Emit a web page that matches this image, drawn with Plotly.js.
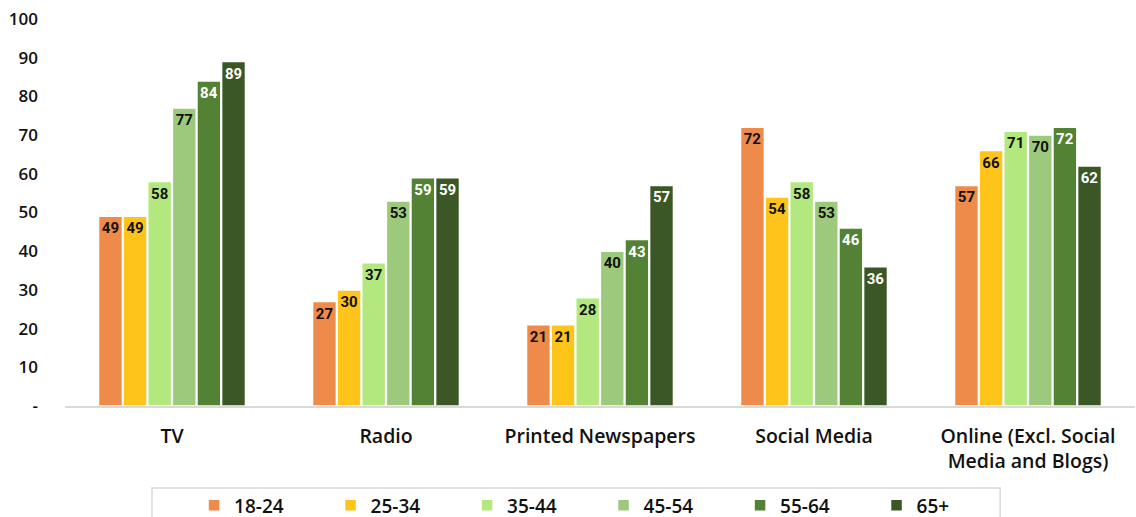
<!DOCTYPE html>
<html>
<head>
<meta charset="utf-8">
<script src="https://cdn.plot.ly/plotly-3.0.1.min.js"></script>
<style>html,body{margin:0;padding:0;background:#fff;overflow:hidden;}#chart{width:1136px;height:530px;}</style>
</head>
<body>
<div id="chart"></div>
<script>
const categories = ["TV", "Radio", "Printed Newspapers", "Social Media", "Online (Excl. Social<br>Media and Blogs)"];
const ageGroups = ["18-24", "25-34", "35-44", "45-54", "55-64", "65+"];
const age18_24 = [49, 27, 21, 72, 57];
const age25_34 = [49, 30, 21, 54, 66];
const age35_44 = [58, 37, 28, 58, 71];
const age45_54 = [77, 53, 40, 53, 70];
const age55_64 = [84, 59, 43, 46, 72];
const age65plus = [89, 59, 57, 36, 62];
const yTickVals = [0, 10, 20, 30, 40, 50, 60, 70, 80, 90, 100];
const yTickText = ["-", "10", "20", "30", "40", "50", "60", "70", "80", "90", "100"];

const seriesValues = [age18_24, age25_34, age35_44, age45_54, age55_64, age65plus];
const colors = ["#EE8B4B", "#FFC41A", "#B3E87E", "#9DC97C", "#548235", "#3A5725"];
const textColors = ["#111", "#111", "#111", "#111", "#fff", "#fff"];
const FONT = "'Open Sans', Roboto, sans-serif";
const BARFONT = "Roboto, 'DejaVu Sans Condensed', sans-serif";

const traces = ageGroups.map((name, i) => ({
  type: "bar",
  name: name,
  x: categories,
  y: seriesValues[i],
  text: seriesValues[i].map(String),
  textposition: "inside",
  insidetextanchor: "end",
  textangle: 0,
  constraintext: "none",
  textfont: {family: BARFONT, size: 15, color: textColors[i], weight: 700},
  marker: {color: colors[i], line: {color: "#ffffff", width: 1.5}},
  hoverinfo: "x+y+name"
}));

const layout = {
  width: 1136, height: 530,
  margin: {l: 65, r: 1, t: 19, b: 124},
  paper_bgcolor: "#fff", plot_bgcolor: "#fff",
  font: {family: FONT, size: 19, color: "#111"},
  barmode: "group",
  bargap: 0.31,
  bargroupgap: 0.03,
  showlegend: true,
  legend: {
    orientation: "h", x: 0.1206, xanchor: "left", y: -0.208, yanchor: "top",
    borderwidth: 0, bgcolor: "rgba(0,0,0,0)",
    font: {family: FONT, size: 19, color: "#111", weight: 600},
    entrywidth: 91.5, itemwidth: 20, traceorder: "normal"
  },
  shapes: [{
    type: "rect", xref: "paper", yref: "paper",
    x0: 0.0813, x1: 0.874, y0: -0.2119, y1: -0.32,
    line: {color: "#d9d9d9", width: 1.5}, fillcolor: "rgba(0,0,0,0)"
  }],
  xaxis: {
    type: "category",
    showline: true, linecolor: "#d9d9d9", linewidth: 1.5,
    showgrid: false, zeroline: false, ticks: "",
    ticklabelstandoff: 12,
    tickfont: {family: FONT, size: 19.5, color: "#111", weight: 600}
  },
  yaxis: {
    range: [0, 100], showgrid: false, zeroline: false, showline: false,
    tickvals: yTickVals, ticktext: yTickText, ticks: "",
    ticklabelstandoff: 26,
    tickfont: {family: FONT, size: 17, color: "#111", weight: 600}
  }
};

Plotly.newPlot("chart", traces, layout, {displayModeBar: false, staticPlot: true});
</script>
</body>
</html>
